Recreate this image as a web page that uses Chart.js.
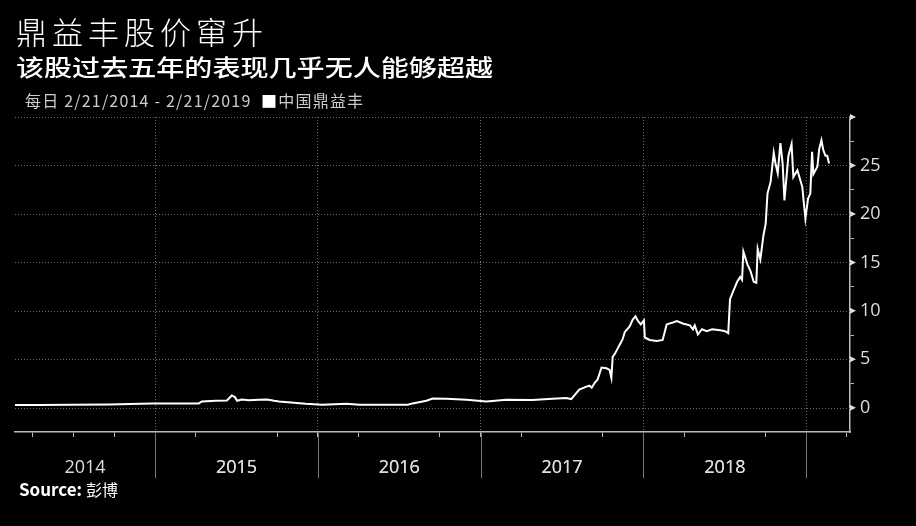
<!DOCTYPE html>
<html><head><meta charset="utf-8">
<script src="https://cdn.jsdelivr.net/npm/chart.js@4.4.1/dist/chart.umd.min.js"></script>
<style>
html,body{margin:0;padding:0;background:#000;width:916px;height:526px;overflow:hidden;}
#wrap{position:relative;width:916px;height:526px;}
canvas{position:absolute;left:0;top:0;}
.t{position:absolute;color:#fff;white-space:nowrap;font-family:"Noto Sans CJK SC";transform-origin:left top;line-height:1;}
</style></head><body>
<div id="wrap">
<canvas id="c" width="916" height="526"></canvas>
<div class="t" id="title" style="left:16px;top:15px;font-size:31px;letter-spacing:5px;font-weight:300;">鼎益丰股价窜升</div>
<div class="t" id="sub" style="left:16px;top:55px;font-size:23px;font-weight:500;transform:scaleX(1.22);">该股过去五年的表现几乎无人能够超越</div>
<div class="t" id="leg" style="left:25px;top:92px;font-size:16px;letter-spacing:1.2px;color:#ccc;">每日 2/21/2014 - 2/21/2019 &nbsp;<span style="color:#fff">■</span>中国鼎益丰</div>
<div class="t" id="src" style="left:19px;top:480px;font-size:17px;font-weight:bold;font-family:'Liberation Sans Narrow','Noto Sans CJK SC';">Source: <span style="font-family:'Noto Sans CJK SC';font-weight:400;font-size:16px">彭博</span></div>
</div>
<script>
const dates = ['2014-02-21','2014-04-15','2014-06-28','2014-09-19','2014-12-25','2015-02-23','2015-04-09','2015-04-16','2015-05-17','2015-06-11','2015-06-22','2015-06-29','2015-07-04','2015-07-15','2015-07-30','2015-08-22','2015-09-09','2015-09-25','2015-10-06','2015-12-05','2016-01-11','2016-03-05','2016-04-04','2016-07-21','2016-08-01','2016-09-01','2016-09-15','2016-10-16','2016-11-30','2017-01-14','2017-02-28','2017-04-27','2017-06-11','2017-07-12','2017-07-23','2017-08-10','2017-08-26','2017-09-02','2017-09-07','2017-09-14','2017-09-20','2017-09-29','2017-10-10','2017-10-17','2017-10-21','2017-10-24','2017-10-28','2017-11-04','2017-11-11','2017-11-15','2017-11-20','2017-12-01','2017-12-08','2017-12-14','2017-12-19','2017-12-26','2018-01-02','2018-01-04','2018-01-15','2018-01-31','2018-02-13','2018-02-22','2018-03-08','2018-03-17','2018-03-30','2018-04-15','2018-04-22','2018-04-26','2018-05-03','2018-05-12','2018-05-23','2018-06-04','2018-06-22','2018-07-03','2018-07-10','2018-07-14','2018-07-21','2018-07-30','2018-08-06','2018-08-10','2018-08-13','2018-08-22','2018-08-29','2018-09-05','2018-09-11','2018-09-14','2018-09-20','2018-09-27','2018-10-02','2018-10-06','2018-10-13','2018-10-20','2018-10-24','2018-10-29','2018-11-04','2018-11-09','2018-11-13','2018-11-20','2018-11-22','2018-11-29','2018-12-03','2018-12-12','2018-12-23','2018-12-30','2019-01-05','2019-01-10','2019-01-14','2019-01-17','2019-01-26','2019-01-30','2019-02-04','2019-02-08','2019-02-13','2019-02-17','2019-02-21'];
const prices = [0.28,0.28,0.31,0.35,0.45,0.45,0.45,0.65,0.72,0.75,1.27,1.1,0.72,0.85,0.78,0.83,0.85,0.72,0.65,0.41,0.31,0.41,0.31,0.31,0.45,0.72,0.96,0.93,0.83,0.65,0.83,0.80,0.93,1.0,0.9,1.87,2.18,2.28,2.07,2.6,2.9,4.15,4.07,3.9,3.1,5.28,5.5,6.1,6.7,7.05,7.8,8.4,9.1,9.43,9.0,8.6,9.0,7.25,7.0,6.9,7.0,8.6,8.8,8.95,8.7,8.5,8.1,8.5,7.56,8.1,7.9,8.1,8.0,7.9,7.7,11.2,12.0,13.0,13.5,13.2,16.1,14.8,14.1,13.0,12.9,16.4,15.3,17.8,19.0,22.1,23.3,26.3,25.2,24.2,27.3,25.2,21.4,25.0,26.0,27.2,23.8,24.5,22.8,19.5,21.6,22.1,26.4,24.1,24.9,26.7,27.6,26.6,26.0,26.0,25.2];
const yearLabels = ['2014','2015','2016','2017','2018'];
const yTickLabels = [0,5,10,15,20,25];
const yMin = -2.5, yMax = 30, yMinorStep = 2.5;
const xStart = '2014-02-21';
const xEnd = '2019-04-09';

function toYear(s){const d=Date.parse(s+'T00:00:00Z');const y=new Date(d).getUTCFullYear();const a=Date.UTC(y,0,1),b=Date.UTC(y+1,0,1);return y+(d-a)/(b-a);}
const xMin = toYear(xStart), xMax = toYear(xEnd);
const points = dates.map((d,i)=>({x:toYear(d),y:prices[i]}));

const quarters = [];
for (let y=Math.floor(xMin); y<=Math.ceil(xMax); y++) for (let q=0;q<4;q++){const v=y+q/4; if(v>xMin && v<xMax) quarters.push(v);}
const labelPos = new Map();
yearLabels.forEach(l=>{const y=+l;const a=Math.max(xMin,y),b=Math.min(xMax,y+1);labelPos.set((a+b)/2,l);});
const isYear = v => Math.abs(v-Math.round(v))<1e-9;
const yTicks = [];
for (let k=Math.round(yMin/yMinorStep)+1; k*yMinorStep<=yMax; k++) yTicks.push(k*yMinorStep);
const isMajorY = v => Math.abs(v/5-Math.round(v/5))<1e-9;

const decor = {
  id:'decor',
  beforeDatasetsDraw(chart){
    const ctx=chart.ctx, ys=chart.scales.y, ca=chart.chartArea;
    ctx.save();
    ctx.strokeStyle='#6a6a6a'; ctx.lineWidth=1; ctx.setLineDash([1,2]);
    yTicks.filter(isMajorY).forEach(v=>{
      const y=Math.round(ys.getPixelForValue(v))+0.5;
      ctx.beginPath(); ctx.moveTo(ca.left,y); ctx.lineTo(ca.right,y); ctx.stroke();
    });
    ctx.restore();
  },
  afterDraw(chart){
    const ctx=chart.ctx, xs=chart.scales.x, ys=chart.scales.y;
    ctx.save();
    ctx.strokeStyle='#777'; ctx.lineWidth=1;
    quarters.filter(isYear).forEach(v=>{
      const x=Math.round(xs.getPixelForValue(v))+0.5;
      ctx.beginPath(); ctx.moveTo(x,xs.top); ctx.lineTo(x,xs.top+46); ctx.stroke();
    });
    ctx.fillStyle='#ddd';
    const ax=ys.left;
    yTickLabels.concat([ys.max]).forEach(v=>{
      const y=ys.getPixelForValue(v);
      ctx.beginPath(); ctx.moveTo(ax,y-3); ctx.lineTo(ax+6,y); ctx.lineTo(ax,y+3); ctx.closePath(); ctx.fill();
    });
    ctx.restore();
  }
};

new Chart(document.getElementById('c'),{
  type:'line',
  data:{datasets:[{data:points,borderColor:'#fff',borderWidth:2,pointRadius:0,tension:0,fill:false}]},
  options:{
    responsive:false,animation:false,
    layout:{padding:{top:117,left:15,right:0,bottom:0}},
    plugins:{legend:{display:false},tooltip:{enabled:false}},
    scales:{
      x:{type:'linear',min:xMin,max:xMax,
        afterBuildTicks:s=>{s.ticks=quarters.map(v=>({value:v})).concat([...labelPos.keys()].map(v=>({value:v})));},
        afterFit:s=>{s.height=94;},
        ticks:{autoSkip:false,maxRotation:0,padding:20,color:'#ddd',font:{family:'Open Sans',size:18},
          callback:v=>labelPos.has(v)?labelPos.get(v):''},
        grid:{drawOnChartArea:true,tickLength:5,
          color:c=>(c.tick&&isYear(c.tick.value))?'#666':'transparent',
          tickColor:c=>(c.tick&&labelPos.has(c.tick.value))?'transparent':'#bbb'},
        border:{display:true,color:'#bbb',width:1.5,dash:[1,2]}
      },
      y:{position:'right',min:yMin,max:yMax,
        afterBuildTicks:s=>{s.ticks=yTicks.map(v=>({value:v}));},
        afterFit:s=>{s.width=66;},
        ticks:{autoSkip:false,padding:6,color:'#ddd',font:{family:'Open Sans',size:18},
          callback:v=>yTickLabels.includes(v)?String(v):''},
        grid:{drawOnChartArea:false,tickLength:4,
          tickColor:c=>(c.tick&&!isMajorY(c.tick.value))?'#bbb':'transparent'},
        border:{display:true,color:'#bbb',width:1.5}
      }
    }
  },
  plugins:[decor]
});
</script>
</body></html>
